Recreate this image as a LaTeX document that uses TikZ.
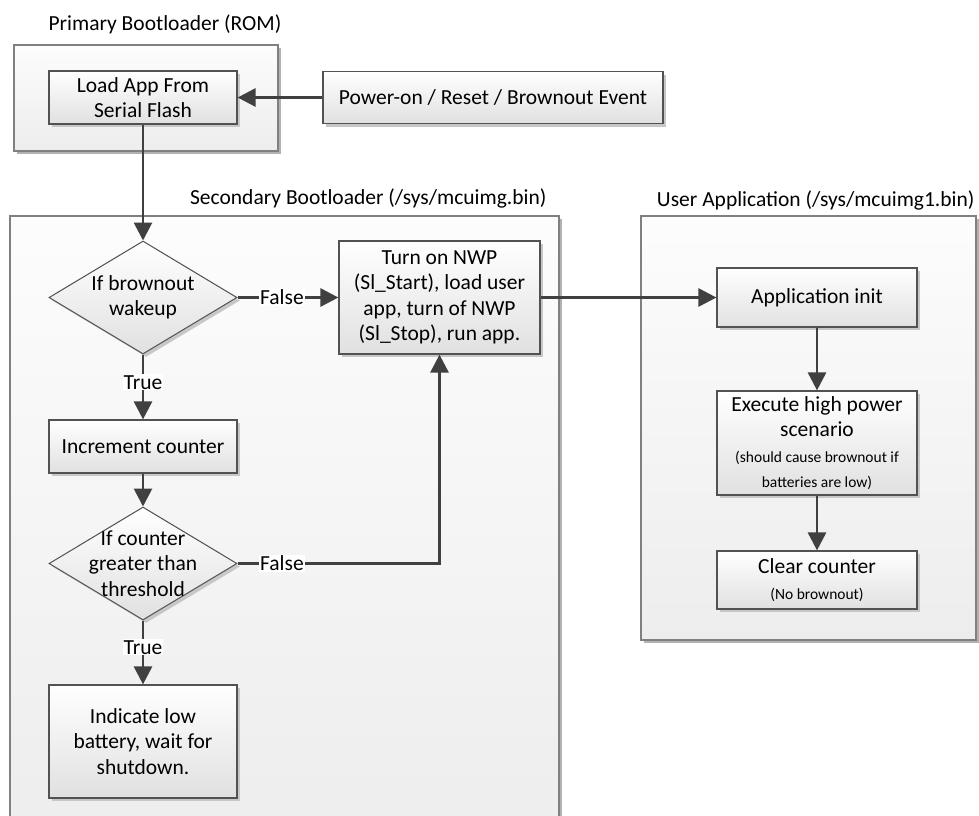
\documentclass[tikz,border=0pt]{standalone}
\usepackage{fontspec}
\setmainfont{Carlito}
\usetikzlibrary{arrows.meta,shapes.geometric,shadows,positioning}

\begin{document}
\begin{tikzpicture}[
		x=1pt, y=-1pt,
		font=\fontsize{21.5}{25.5}\selectfont,
		container/.style={rectangle, draw=black!50, line width=1.4pt, top color=black!1, bottom color=black!7, inner sep=0pt,
			drop shadow={shadow xshift=3pt, shadow yshift=-3pt, fill=black!30, opacity=1}},
		block/.style={rectangle, draw=black!68, line width=1.2pt, top color=white, bottom color=black!12, inner sep=0pt, align=center,
			drop shadow={shadow xshift=3pt, shadow yshift=-3pt, fill=black!22, opacity=1}},
		decision/.style={diamond, draw=black!68, line width=1pt, top color=white, bottom color=black!12, inner sep=0pt,
			minimum width=188pt, minimum height=113pt,
			drop shadow={shadow xshift=3pt, shadow yshift=-3pt, fill=black!22, opacity=1}},
		flow/.style={draw=black!75, line width=2.8pt, -{Triangle[length=18pt,width=18pt]}},
		cond/.style={fill=white, inner sep=1pt}
		]
	
		\useasboundingbox (0,0) rectangle (979,815);
	
		% --- Containers ---
		\node[container, minimum width=264pt, minimum height=106pt] (prim) at (146,98) {};
		\node[container, minimum width=549pt, minimum height=614pt] (sec) at (284.5,523) {};
		\node[container, minimum width=335pt, minimum height=424pt] (user) at (808.5,428) {};
	
		\node[anchor=west] (primT) at (45,24) {Primary Bootloader (ROM)};
		\node[anchor=east] (secT) at (550,198) {Secondary Bootloader (/sys/mcuimg.bin)};
		\node[anchor=east] (userT) at (978,200) {User Application (/sys/mcuimg1.bin)};
	
		% --- Primary bootloader ---
		\node[block, minimum width=188pt, minimum height=53pt] (load) at (143,97.5) {Load App From\\Serial Flash};
		\node[block, minimum width=340pt, minimum height=52pt] (power) at (493,97.5) {Power-on / Reset / Brownout Event};
	
		% --- Secondary bootloader ---
		\node[decision] (D1) at (143,297.5) {};
		\node[align=center] (D1t) at (D1) {If brownout\\wakeup};
		\node[block, minimum width=201pt, minimum height=113pt] (nwp) at (439.5,297.5) {Turn on NWP\\(Sl\_Start), load user\\app, turn of NWP\\(Sl\_Stop), run app.};
		\node[block, minimum width=188pt, minimum height=53pt] (inc) at (143,446.5) {Increment counter};
		\node[decision] (D2) at (143,563.5) {};
		\node[align=center] (D2t) at (D2) {If counter\\greater than\\threshold};
		\node[block, minimum width=188pt, minimum height=113pt] (ind) at (143,741.5) {Indicate low\\battery, wait for\\shutdown.};
	
		% --- User application ---
		\node[block, minimum width=200pt, minimum height=59pt] (init) at (817,297.5) {Application init};
		\node[block, minimum width=200pt, minimum height=104pt] (exec) at (817,443) {Execute high power\\scenario\\{\fontsize{15.5}{25}\selectfont (should cause brownout if}\\{\fontsize{15.5}{25}\selectfont batteries are low)}};
		\node[block, minimum width=200pt, minimum height=58pt] (clear) at (817,580) {Clear counter\\[1pt]{\fontsize{15.5}{25}\selectfont (No brownout)}};
	
		% Arcs
		\draw[flow] (power) -- (load);
		\draw[flow] (load) -- (D1);
		\draw[flow] (D1) -- node[cond, pos=0.44] {False} (nwp);
		\draw[flow] (D1) -- node[cond, pos=0.43] {True} (inc);
		\draw[flow] (inc) -- (D2);
		\draw[flow] (D2.east) -- node[cond, pos=0.22] {False} (D2.east -| nwp.south) -- (nwp.south);
		\draw[flow] (D2) -- node[cond, pos=0.42] {True} (ind);
		\draw[flow] (nwp) -- (init);
		\draw[flow] (init) -- (exec);
		\draw[flow] (exec) -- (clear);
	
	\end{tikzpicture}
\end{document}
